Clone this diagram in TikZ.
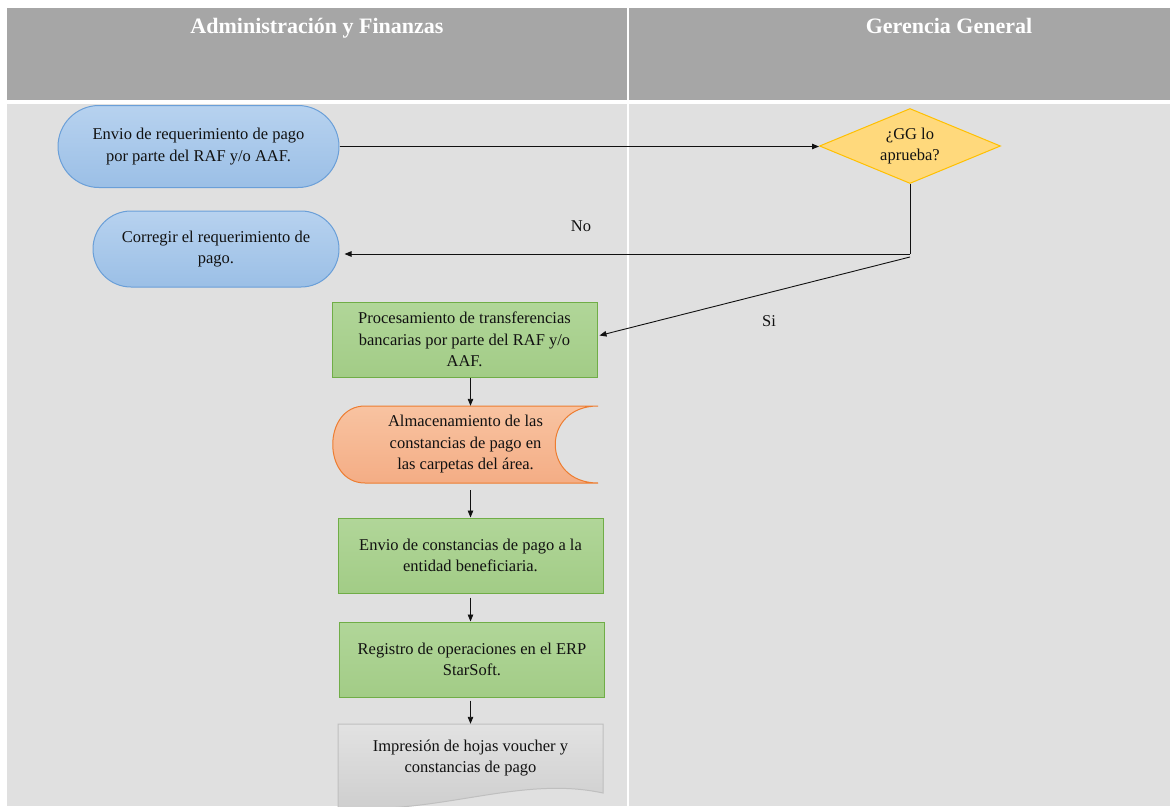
\documentclass[tikz,border=0pt]{standalone}
\usepackage{fontspec}
\setmainfont{Liberation Serif}
\usetikzlibrary{shapes.geometric,shapes.misc,arrows.meta,calc}

\definecolor{hdr}{HTML}{A6A6A6}
\definecolor{lane}{HTML}{E0E0E0}
\definecolor{blueT}{HTML}{B7D2EF}
\definecolor{blueB}{HTML}{9BBFE6}
\definecolor{blueline}{HTML}{6A9FD8}
\definecolor{greenT}{HTML}{B1D699}
\definecolor{greenB}{HTML}{A2CC86}
\definecolor{greenline}{HTML}{70AD47}
\definecolor{orangeT}{HTML}{F8C3A1}
\definecolor{orangeB}{HTML}{F4AD85}
\definecolor{orangeline}{HTML}{ED7D31}
\definecolor{yellowfill}{HTML}{FFD97C}
\definecolor{yellowline}{HTML}{FFC000}
\definecolor{docT}{HTML}{E2E2E2}
\definecolor{docB}{HTML}{CDCDCD}
\definecolor{docline}{HTML}{BFBFBF}
\definecolor{ink}{HTML}{111111}

\begin{document}
\begin{tikzpicture}[x=1pt,y=-1pt,
  hdrtext/.style={font=\fontsize{22}{26}\selectfont\bfseries, text=white, inner sep=0pt, anchor=base},
  flow/.style={font=\fontsize{16.5}{21.5}\selectfont, align=center, inner sep=0pt, text=ink},
  terminal/.style={flow, rounded rectangle, draw=blueline, line width=1pt, top color=blueT, bottom color=blueB},
  procbox/.style={flow, rectangle, draw=greenline, line width=1pt, top color=greenT, bottom color=greenB,
                  minimum width=265pt, minimum height=75pt},
  decision/.style={diamond, draw=yellowline, line width=1pt, fill=yellowfill, inner sep=0pt,
                   minimum width=181pt, minimum height=75pt},
  lbl/.style={font=\fontsize{16.5}{20}\selectfont, text=ink, inner sep=0pt},
  arrow/.style={line width=0.9pt, draw=ink, -{Triangle[length=7pt,width=5.5pt]}}
]
\useasboundingbox (0,0) rectangle (1170,806);
\clip (0,0) rectangle (1170,806);

% swimlane background
\fill[white] (0,0) rectangle (1170,806);
\fill[hdr] (7,8) rectangle (1170,100);
\fill[lane] (7,104) rectangle (1170,806);
\draw[white, line width=2pt] (628,8) -- (628,806);

\node[hdrtext] (h1) at (317,33) {Administración y Finanzas};
\node[hdrtext] (h2) at (949,33) {Gerencia General};

% storage shape (stored data)
\draw[orangeline, line width=1pt, top color=orangeT, bottom color=orangeB]
  (365,406) -- (598,406) .. controls (541,406) and (541,483) .. (598,483)
  -- (365,483) .. controls (322,483) and (322,406) .. (365,406) -- cycle;

% document shape
\draw[docline, line width=1pt, top color=docT, bottom color=docB]
  (338,724) -- (603,724) -- (603,793) .. controls (520,775) and (440,815) .. (338,808) -- cycle;

% nodes
\node[terminal, minimum width=281pt, minimum height=82pt] (envio) at (198.5,146.5)
  {Envio de requerimiento de pago\\por parte del RAF y/o AAF.};
\node[terminal, minimum width=246pt, minimum height=76pt] (corr) at (216,249)
  {Corregir el requerimiento de\\pago.};
\node[decision] (dec) at (910,146) {};
\node[flow] (dectext) at (dec.center) {¿GG lo\\aprueba?};
\node[procbox] (proc) at (464.5,339.5)
  {Procesamiento de transferencias\\bancarias por parte del RAF y/o\\AAF.};
\node[flow, minimum width=265pt, minimum height=77pt] (alm) at (465.5,444.5)
  {Almacenamiento de las\\constancias de pago en\\las carpetas del área.};
\node[procbox] (cons) at (470.5,555.5)
  {Envio de constancias de pago a la\\entidad beneficiaria.};
\node[procbox] (reg) at (472,659.5)
  {Registro de operaciones en el ERP\\StarSoft.};
\node[flow, minimum width=265pt, minimum height=68pt] (imp) at (470.5,758)
  {Impresión de hojas voucher y\\constancias de pago};

\node[lbl] (lno) at (581,226) {No};
\node[lbl] (lsi) at (769,321) {Si};

% connectors
\coordinate (j) at (910,254);
\coordinate (j2) at (910,257);
\draw[arrow] (envio.east) -- (envio.east -| dec.west);
\draw[line width=0.9pt, ink] (dec.south) -- (j);
\draw[arrow, shorten >=5pt] (j) -- (corr.east |- j);
\draw[arrow] (j2) -- ($(proc.east)+(2,-4)$);
\draw[arrow] (proc.south -| cons.north) -- (alm.north -| cons.north);
\draw[arrow] ($(alm.south -| cons.north)+(0,7)$) -- (cons.north);
\draw[arrow] ($(cons.south)+(0,4)$) -- ($(reg.north -| cons.north)$);
\draw[arrow] ($(reg.south -| cons.north)+(0,3)$) -- (imp.north -| cons.north);
\end{tikzpicture}
\end{document}
